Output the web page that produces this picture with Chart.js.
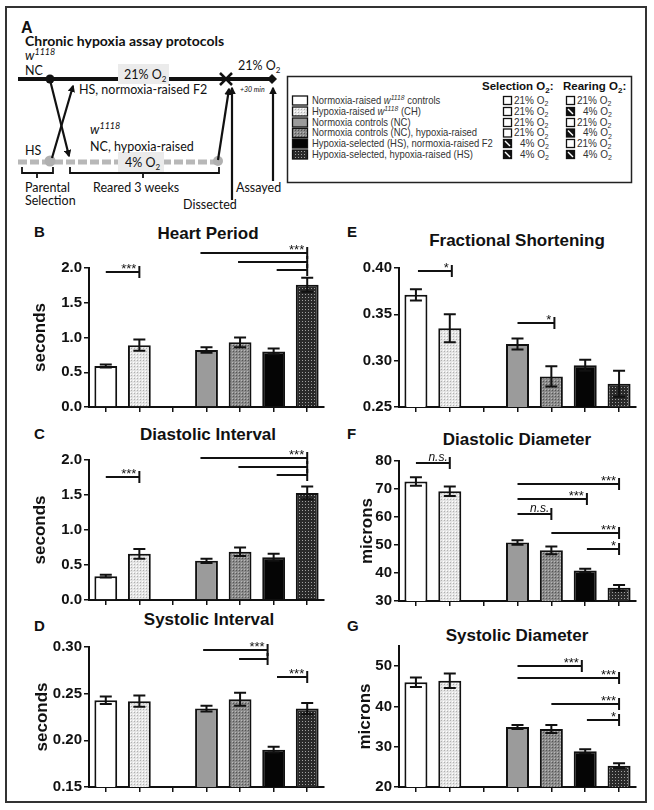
<!DOCTYPE html>
<html>
<head>
<meta charset="utf-8">
<script src="https://cdn.jsdelivr.net/npm/chart.js@4.4.1/dist/chart.umd.min.js"></script>
<style>
  body { margin: 0; background: #fff; }
  #fig { position: relative; width: 654px; height: 810px; overflow: hidden; font-family: 'Liberation Sans', Arial, sans-serif; color: #111; }
  .frame { position: absolute; left: 5px; top: 6px; width: 638px; height: 793px; border: 2px solid #333; }
  canvas.panel { position: absolute; }
  .ttl { position: absolute; font-weight: bold; font-size: 17px; line-height: 1; transform: translate(-50%, -50%); white-space: nowrap; }
  .lett { position: absolute; font-weight: bold; font-size: 15px; line-height: 1; transform: translate(0, -50%); }
</style>
</head>
<body>
<div id="fig">
  <div class="frame"></div>

  <svg id="panelA" width="654" height="230" style="position:absolute;left:0;top:0" font-family="Lato, 'Open Sans', sans-serif" fill="#111">
    <defs>
      <marker id="ah" viewBox="0 0 10 10" refX="8" refY="5" markerWidth="3.4" markerHeight="3.4" orient="auto"><path d="M0,0 L10,5 L0,10 z" fill="#111"/></marker>
      <pattern id="pLight" width="3" height="3" patternUnits="userSpaceOnUse"><rect width="3" height="3" fill="#e4e4e4"/><rect width="1" height="1" fill="#fff"/><rect x="1" y="1" width="1" height="1" fill="#b0b0b0"/></pattern>
      <pattern id="pGray" width="3" height="3" patternUnits="userSpaceOnUse"><rect width="3" height="3" fill="#8a8a8a"/><rect width="1" height="1" fill="#b8b8b8"/><rect x="1" y="1" width="1" height="1" fill="#555"/></pattern>
      <pattern id="pDark" width="3" height="3" patternUnits="userSpaceOnUse"><rect width="3" height="3" fill="#2a2a2a"/><rect x="1" y="1" width="1" height="1" fill="#a0a0a0"/></pattern>
    </defs>

    <text x="21" y="33" font-family="'Liberation Sans', Arial" font-weight="bold" font-size="16">A</text>
    <text x="25" y="46" font-weight="bold" font-size="14">Chronic hypoxia assay protocols</text>

    <!-- normoxia line -->
    <text x="25" y="60" font-style="italic" font-size="13">w<tspan dy="-5" font-size="9">1118</tspan></text>
    <text x="25" y="75" font-size="12.5">NC</text>
    <line x1="18" y1="79" x2="272" y2="79" stroke="#111" stroke-width="4"/>
    <rect x="118" y="64" width="51" height="20" fill="#ebebeb"/>
    <text x="124" y="79" font-size="12.5">21% O<tspan dy="3" font-size="8">2</tspan></text>
    <circle cx="50" cy="79" r="4.5"/>
    <path d="M220,73 L232,85 M232,73 L220,85" stroke="#111" stroke-width="2.5"/>
    <path d="M272,74 L277,79 L272,84 L267,79 z"/>
    <text x="238" y="70" font-size="12.5">21% O<tspan dy="3" font-size="8">2</tspan></text>
    <text x="79" y="94" font-size="12.5">HS, normoxia-raised F2</text>
    <text x="240" y="92" font-style="italic" font-size="7">+30 min</text>

    <!-- hypoxia line -->
    <line x1="18" y1="162" x2="220" y2="162" stroke="#b8b8b8" stroke-width="5" stroke-dasharray="9 3"/>
    <rect x="118" y="152" width="46" height="20" fill="#ebebeb"/>
    <text x="125" y="167" font-size="12.5">4% O<tspan dy="3" font-size="8">2</tspan></text>
    <circle cx="50" cy="161" r="5.5" fill="#b0b0b0"/>
    <circle cx="218" cy="161" r="5" fill="#b0b0b0"/>
    <text x="25" y="155" font-size="12.5">HS</text>
    <text x="90" y="134" font-style="italic" font-size="13">w<tspan dy="-5" font-size="9">1118</tspan></text>
    <text x="90" y="151" font-size="12.5">NC, hypoxia-raised</text>

    <!-- arrows -->
    <g stroke="#111" stroke-width="2.2" fill="none" marker-end="url(#ah)">
      <line x1="52" y1="158" x2="73" y2="86"/>
      <line x1="50" y1="80" x2="69" y2="156"/>
      <line x1="218" y1="160" x2="229" y2="89"/>
      <line x1="232" y1="200" x2="232" y2="88"/>
      <line x1="273" y1="181" x2="273" y2="88"/>
    </g>

    <!-- braces -->
    <path d="M22,167 L22,173 L53,173 L53,167 M37,173 L37,178 M70,167 L70,173 L219,173 L219,167 M143,173 L143,178" stroke="#111" stroke-width="1.8" fill="none"/>
    <text x="25" y="192" font-size="12.5">Parental</text>
    <text x="25" y="205" font-size="12.5">Selection</text>
    <text x="93" y="192" font-size="12.5">Reared 3 weeks</text>
    <text x="183" y="209" font-size="12.5">Dissected</text>
    <text x="236" y="192" font-size="12.5">Assayed</text>

    <!-- legend box -->
    <rect x="287.5" y="76.5" width="344" height="106" fill="none" stroke="#222" stroke-width="1.5"/>
    <g id="legend" font-family="'Liberation Sans', Arial, sans-serif" fill="#333"></g>
  </svg>

  <div class="lett" style="left:34px;top:231px">B</div>
  <div class="lett" style="left:34px;top:433px">C</div>
  <div class="lett" style="left:34px;top:625px">D</div>
  <div class="lett" style="left:347px;top:231px">E</div>
  <div class="lett" style="left:347px;top:433px">F</div>
  <div class="lett" style="left:347px;top:625px">G</div>

  <div class="ttl" style="left:208px;top:233px">Heart Period</div>
  <div class="ttl" style="left:208px;top:434px">Diastolic Interval</div>
  <div class="ttl" style="left:209px;top:619px">Systolic Interval</div>
  <div class="ttl" style="left:517px;top:240px">Fractional Shortening</div>
  <div class="ttl" style="left:517px;top:439px">Diastolic Diameter</div>
  <div class="ttl" style="left:517px;top:635px">Systolic Diameter</div>

  <canvas class="panel" id="chartB"></canvas>
  <canvas class="panel" id="chartC"></canvas>
  <canvas class="panel" id="chartD"></canvas>
  <canvas class="panel" id="chartE"></canvas>
  <canvas class="panel" id="chartF"></canvas>
  <canvas class="panel" id="chartG"></canvas>
</div>

<script>
'use strict';

// Groups (index 2 is the empty gap between the two sets of flies)
const groups = ['Normoxia-raised w1118 controls', 'Hypoxia-raised w1118 (CH)', 'Normoxia controls (NC)',
  'Normoxia controls (NC), hypoxia-raised', 'Hypoxia-selected (HS), normoxia-raised F2', 'Hypoxia-selected, hypoxia-raised (HS)'];
const selectionO2 = ['21%', '21%', '21%', '21%', '4%', '4%'];
const rearingO2 = ['21%', '4%', '21%', '4%', '21%', '4%'];
const categories = ['g1', 'g2', 'gap', 'g3', 'g4', 'g5', 'g6'];

// B Heart Period (seconds)
const heartPeriod = [0.59, 0.89, null, 0.82, 0.93, 0.80, 1.76];
const heartPeriodErr = [0.02, 0.08, null, 0.04, 0.07, 0.04, 0.10];
// C Diastolic Interval (seconds)
const diastolicInterval = [0.34, 0.66, null, 0.56, 0.69, 0.61, 1.53];
const diastolicIntervalErr = [0.02, 0.07, null, 0.03, 0.06, 0.05, 0.09];
// D Systolic Interval (seconds)
const systolicInterval = [0.243, 0.242, null, 0.234, 0.244, 0.190, 0.234];
const systolicIntervalErr = [0.004, 0.006, null, 0.003, 0.007, 0.003, 0.006];
// E Fractional Shortening
const fractionalShortening = [0.371, 0.335, null, 0.318, 0.283, 0.295, 0.275];
const fractionalShorteningErr = [0.006, 0.015, null, 0.006, 0.011, 0.006, 0.014];
// F Diastolic Diameter (microns)
const diastolicDiameter = [72.7, 69.2, null, 50.9, 48.1, 40.9, 34.7];
const diastolicDiameterErr = [1.5, 1.7, null, 0.8, 1.4, 0.6, 1.0];
// G Systolic Diameter (microns)
const systolicDiameter = [46.0, 46.4, null, 34.9, 34.4, 28.9, 25.3];
const systolicDiameterErr = [1.2, 1.8, null, 0.5, 1.0, 0.5, 0.6];

// significance brackets: [from category, to category, y value, label]
const heartPeriodSig = [[0, 1, 1.94, '***'], [2.82, 6, 2.21, '***'], [3.94, 6, 2.09, ''], [5.09, 6, 1.97, '']];
const diastolicIntervalSig = [[0, 1, 1.76, '***'], [2.82, 6, 2.03, '***'], [3.95, 6, 1.90, ''], [5.09, 6, 1.79, '']];
const systolicIntervalSig = [[2.9, 4.82, 0.297, '***'], [3.97, 4.82, 0.287, ''], [5.1, 6, 0.268, '***']];
const fractionalShorteningSig = [[0.06, 1.06, 0.397, '*'], [3, 4.09, 0.341, '*']];
const diastolicDiameterSig = [[0, 1, 79.3, 'n.s.'], [3, 6, 71.8, '***'], [3, 5.05, 66.4, '***'], [3, 4, 61, 'n.s.'], [4, 6, 54.3, '***'], [5.05, 6, 48.6, '*']];
const systolicDiameterSig = [[3, 4.9, 50, '***'], [3, 6, 47, '***'], [4, 6, 40.5, '***'], [5.05, 6, 36.7, '*']];

// ---- legend in panel A
(function () {
  const fills = ['#fff', 'url(#pLight)', '#9b9b9b', 'url(#pGray)', '#050505', 'url(#pDark)'];
  const rows = [100, 111, 122, 132.5, 143, 154];
  const box = (x, c, pct) => {
    let s = `<rect x="${x + 0.5}" y="${c - 3.5}" width="8" height="8" fill="${pct === '4%' ? '#111' : '#fff'}" stroke="#111" stroke-width="1.3"/>`;
    if (pct === '4%') s += `<line x1="${x + 2}" y1="${c - 2}" x2="${x + 7}" y2="${c + 3}" stroke="#fff" stroke-width="1.4"/>`;
    return s;
  };
  const o2 = (x, c, pct) => `<text x="${pct === '4%' ? x + 6 : x}" y="${c + 3.5}" font-size="10">${pct} O<tspan dy="2.5" font-size="7">2</tspan></text>`;
  let html = '<text x="482" y="90" font-weight="bold" font-size="11.5" fill="#111">Selection O<tspan dy="3" font-size="8">2</tspan><tspan dy="-3">:</tspan></text>' +
    '<text x="563" y="90" font-weight="bold" font-size="11.5" fill="#111">Rearing O<tspan dy="3" font-size="8">2</tspan><tspan dy="-3">:</tspan></text>';
  groups.forEach((g, i) => {
    const c = rows[i];
    const label = g.replace('w1118 ', '<tspan font-style="italic">w</tspan><tspan dy="-4" font-size="7.5" font-style="italic">1118</tspan><tspan dy="4"> </tspan>');
    html += `<rect x="292.5" y="${c - 4}" width="15" height="9" fill="${fills[i]}" stroke="#111" stroke-width="1.3"/>`;
    html += `<text transform="translate(312 ${c + 3.8}) scale(0.9 1)" font-size="10.5">${label}</text>`;
    html += box(503, c, selectionO2[i]) + o2(514, c, selectionO2[i]);
    html += box(566, c, rearingO2[i]) + o2(577, c, rearingO2[i]);
  });
  document.getElementById('legend').innerHTML = html;
})();

// ---- bar fills
function dotPattern(bg, hi, lo) {
  const tile = document.createElement('canvas');
  tile.width = tile.height = 3;
  const g = tile.getContext('2d');
  g.fillStyle = bg; g.fillRect(0, 0, 3, 3);
  if (hi) { g.fillStyle = hi; g.fillRect(0, 0, 1, 1); }
  g.fillStyle = lo; g.fillRect(1, 1, 1, 1);
  return g.createPattern(tile, 'repeat');
}
const barFills = ['#ffffff', dotPattern('#e4e4e4', '#ffffff', '#b0b0b0'), '#ffffff', '#9b9b9b',
  dotPattern('#8a8a8a', '#b8b8b8', '#555555'), '#050505', dotPattern('#2a2a2a', null, '#a0a0a0')];

function marksPlugin(errors, sig) {
  return {
    id: 'marks',
    afterDatasetsDraw(chart) {
      const { ctx, scales: { x, y } } = chart;
      const x0 = x.getPixelForValue(0);
      const step = x.getPixelForValue(1) - x0;
      const xAt = p => x0 + p * step;
      ctx.save();
      ctx.strokeStyle = '#111';
      ctx.fillStyle = '#111';
      ctx.lineWidth = 2;
      // error bars
      chart.data.datasets[0].data.forEach((v, i) => {
        if (v == null) return;
        const cx = x.getPixelForValue(i);
        const top = y.getPixelForValue(v + errors[i]);
        const bot = y.getPixelForValue(v - errors[i]);
        ctx.beginPath();
        ctx.moveTo(cx, top); ctx.lineTo(cx, bot);
        ctx.moveTo(cx - 6, top); ctx.lineTo(cx + 6, top);
        ctx.moveTo(cx - 6, bot); ctx.lineTo(cx + 6, bot);
        ctx.stroke();
      });
      // significance brackets
      sig.forEach(([a, b, v, label]) => {
        const py = Math.round(y.getPixelForValue(v));
        const x1 = xAt(a), x2 = xAt(b);
        ctx.beginPath();
        ctx.moveTo(x1, py); ctx.lineTo(x2, py);
        ctx.moveTo(x2, py - 6); ctx.lineTo(x2, py + 6);
        ctx.stroke();
        if (label) {
          ctx.textAlign = 'right';
          ctx.textBaseline = 'alphabetic';
          if (label === 'n.s.') {
            ctx.font = "italic 12px 'Liberation Sans', Arial, sans-serif";
            ctx.fillText(label, x2 - 2, py - 2);
          } else {
            ctx.font = "13px 'Liberation Sans', Arial, sans-serif";
            ctx.fillText(label, x2 - 3, py + 1);
          }
        }
      });
      ctx.restore();
    }
  };
}

function drawPanel(id, box, values, errors, sig, yMin, yMax, yStep, digits, yTitle, titlePad) {
  const padTop = 50, padRight = 12, yWidth = 85, xHeight = 12;
  const w = box.r - box.l + yWidth + padRight;
  const h = box.b - box.t + padTop + xHeight;
  const canvas = document.getElementById(id);
  canvas.width = w; canvas.height = h;
  canvas.style.width = w + 'px'; canvas.style.height = h + 'px';
  canvas.style.left = (box.l - yWidth) + 'px';
  canvas.style.top = (box.t - padTop) + 'px';

  return new Chart(canvas, {
    type: 'bar',
    data: {
      labels: categories,
      datasets: [{
        data: values,
        backgroundColor: barFills,
        borderColor: '#111',
        borderWidth: 2,
        barPercentage: 0.68,
        categoryPercentage: 1
      }]
    },
    options: {
      responsive: false,
      animation: false,
      devicePixelRatio: 1,
      layout: { padding: { top: padTop, right: padRight, left: 0, bottom: 0 } },
      plugins: { legend: { display: false }, tooltip: { enabled: false } },
      scales: {
        x: {
          border: { color: '#111', width: 2 },
          grid: { drawOnChartArea: false, offset: false, tickLength: 5, color: '#111', lineWidth: 1.5 },
          ticks: { autoSkip: false, callback: () => '' },
          afterFit: s => { s.height = xHeight; }
        },
        y: {
          min: yMin,
          max: yMax,
          border: { color: '#111', width: 2 },
          grid: { drawOnChartArea: false, tickLength: 5, color: '#111', lineWidth: 1.5 },
          ticks: {
            stepSize: yStep,
            includeBounds: false,
            color: '#111',
            padding: 2,
            font: { size: 15, weight: 'bold' },
            callback: v => Number(v).toFixed(digits)
          },
          title: {
            display: !!yTitle,
            text: yTitle,
            color: '#111',
            font: { size: 17, weight: 'bold' },
            padding: { top: titlePad, bottom: 0 }
          },
          afterFit: s => { s.width = yWidth; }
        }
      }
    },
    plugins: [marksPlugin(errors, sig)]
  });
}

Chart.defaults.font.family = "'Liberation Sans', Arial, sans-serif";

drawPanel('chartB', { l: 89, r: 324, t: 268, b: 407 }, heartPeriod, heartPeriodErr, heartPeriodSig, 0, 2.0, 0.5, 1, 'seconds', 26);
drawPanel('chartC', { l: 89, r: 324, t: 460, b: 600 }, diastolicInterval, diastolicIntervalErr, diastolicIntervalSig, 0, 2.0, 0.5, 1, 'seconds', 26);
drawPanel('chartD', { l: 89, r: 324, t: 647, b: 787 }, systolicInterval, systolicIntervalErr, systolicIntervalSig, 0.15, 0.30, 0.05, 2, 'seconds', 28);
drawPanel('chartE', { l: 399, r: 636, t: 268, b: 407 }, fractionalShortening, fractionalShorteningErr, fractionalShorteningSig, 0.25, 0.40, 0.05, 2, '', 0);
drawPanel('chartF', { l: 399, r: 636, t: 461, b: 601 }, diastolicDiameter, diastolicDiameterErr, diastolicDiameterSig, 30, 80, 10, 0, 'microns', 43);
drawPanel('chartG', { l: 399, r: 636, t: 646, b: 787 }, systolicDiameter, systolicDiameterErr, systolicDiameterSig, 20, 55, 10, 0, 'microns', 41);
</script>
</body>
</html>
